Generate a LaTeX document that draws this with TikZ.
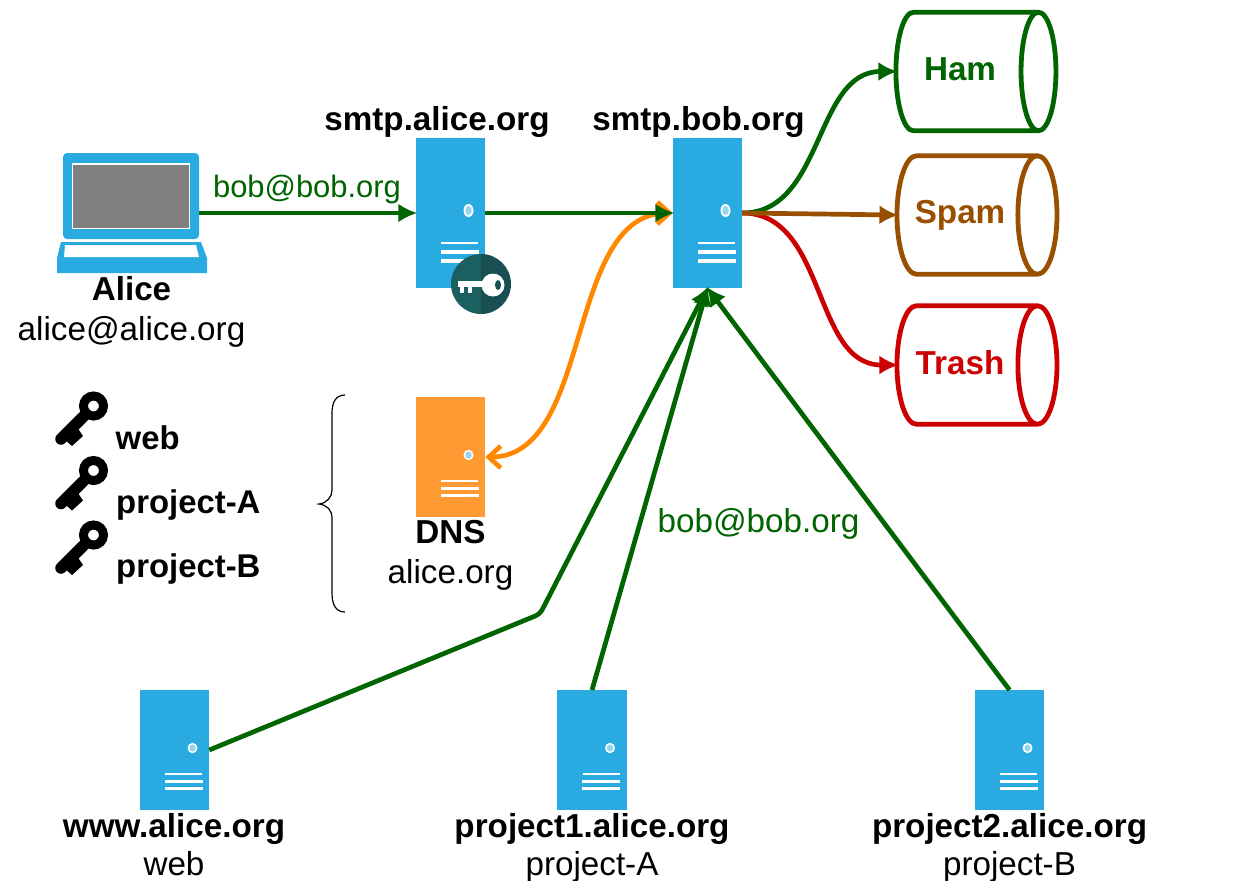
\documentclass[tikz,border=0pt]{standalone}
\usepackage{fontspec}
\setmainfont{Liberation Sans}
\usepackage{xcolor}
\usepackage{tikz}
\usetikzlibrary{arrows.meta}
\usetikzlibrary{shapes.geometric}

\definecolor{srvblue}{HTML}{29ABE2}
\definecolor{srvorange}{HTML}{FF9A33}
\definecolor{linkorange}{HTML}{FF8800}
\definecolor{okgreen}{HTML}{006400}
\definecolor{spambrown}{HTML}{994F00}
\definecolor{trashred}{HTML}{CC0000}
\definecolor{badgeleft}{HTML}{1B5F60}
\definecolor{badgeright}{HTML}{174F53}

\tikzset{
  server/.style={fill=srvblue, inner sep=0pt, outer sep=0pt, minimum width=.695cm, minimum height=1.20cm},
  bigserver/.style={server, minimum height=1.50cm},
  title/.style={anchor=base, inner sep=0pt, font=\fontsize{9.45}{11}\selectfont\bfseries},
  sub/.style={anchor=base, inner sep=0pt, font=\fontsize{9.45}{11}\selectfont},
  mail/.style={anchor=base, inner sep=0pt, text=okgreen, font=\fontsize{8.8}{11}\selectfont},
  keyname/.style={title, anchor=base west, font=\fontsize{9.35}{11}\selectfont\bfseries},
  mailbox/.style={cylinder, draw=#1, text=#1, line width=.048cm, aspect=1.3, inner ysep=0pt, inner xsep=-.04cm, outer sep=0pt,
    minimum width=1.185cm, minimum height=1.60cm, font=\fontsize{9.45}{11}\selectfont\bfseries},
  flow/.style={line width=.047cm, draw=#1, shorten >=-.015cm, -{Latex[length=.19cm,width=.19cm]}},
  lookup/.style={line width=.047cm, draw=linkorange, {Straight Barb[length=.12cm,width=.22cm]}-{Straight Barb[length=.12cm,width=.22cm]}},
}

\newcommand{\serverbits}[2]{
  \begin{scope}[shift={(#1.center)},yscale=#2]
    \fill [white] (.18,.025) ellipse (.05 and .065);
    \fill [white!50!srvblue] (.18,.025) ellipse (.032 and .045);
    \fill [white] (-.095,-.29) rectangle (.275,-.31);
    \fill [white] (-.10,-.37) rectangle (.28,-.41);
    \fill [white] (-.10,-.46) rectangle (.28,-.50);
  \end{scope}
}

\begin{document}
\begin{tikzpicture}
  \useasboundingbox (0,0) rectangle (12.54,-8.80);

  % laptop
  \node [fill=srvblue, rounded corners=.04cm, minimum width=1.36cm, minimum height=.86cm, inner sep=0pt, outer sep=0pt] (alice) at (1.31,-1.96) {};
  \node [fill=gray, draw=white, line width=.015cm, minimum width=1.17cm, minimum height=.645cm, inner sep=0pt] (screen) at (alice.center) {};
  \fill [srvblue] (.61,-2.42) -- (2.01,-2.42) -- (2.07,-2.58) -- (2.07,-2.73) -- (.57,-2.73) -- (.57,-2.58) -- cycle;
  \fill [white] (.65,-2.45) -- (1.96,-2.45) -- (1.99,-2.57) -- (.64,-2.57) -- cycle;
  \node [title] (alicename) at (1.315,-3.00) {Alice};
  \node [sub] (alicemail) at (1.315,-3.40) {alice@alice.org};

  % servers
  \node [bigserver] (smtpalice) at (4.505,-2.13) {};
  \node [bigserver] (smtpbob) at (7.075,-2.13) {};
  \node [server, fill=srvorange] (dns) at (4.505,-4.57) {};
  \node [server] (www) at (1.745,-7.50) {};
  \node [server] (projone) at (5.92,-7.50) {};
  \node [server] (projtwo) at (10.095,-7.50) {};
  \serverbits{smtpalice}{1}
  \serverbits{smtpbob}{1}
  \serverbits{dns}{.8}
  \serverbits{www}{.8}
  \serverbits{projone}{.8}
  \serverbits{projtwo}{.8}

  % key badge
  \fill [badgeleft] (4.81,-2.54) arc (90:270:.30);
  \fill [badgeright] (4.81,-2.54) arc (90:-90:.30);
  \fill [white] (4.93,-2.85) ellipse (.115 and .115);
  \fill [badgeright] (4.98,-2.85) ellipse (.03 and .05);
  \fill [white] (4.58,-2.81) rectangle (4.90,-2.87);
  \fill [white] (4.60,-2.87) rectangle (4.64,-2.93);
  \fill [white] (4.68,-2.87) rectangle (4.72,-2.93);

  % mailboxes
  \node [mailbox=okgreen] (ham) at (9.66,-.715) {\raisebox{.04cm}{Ham}\kern.12cm};
  \node [mailbox=spambrown] (spam) at (9.66,-2.15) {Spam\kern.12cm};
  \node [mailbox=trashred] (trash) at (9.66,-3.65) {\raisebox{.06cm}{Trash}\kern.12cm};

  % connections
  \draw [lookup] (dns.east) to[out=0,in=180,looseness=.9] (smtpbob.west);
  \draw [flow=okgreen] ([yshift=-.17cm]alice.east) -- (smtpalice.west);
  \draw [flow=okgreen] (smtpalice.east) -- (smtpbob.west);
  \draw [flow=okgreen] (smtpbob.east) to[out=0,in=180] (ham.west);
  \draw [flow=trashred] (smtpbob.east) to[out=0,in=180] (trash.west);
  \draw [flow=spambrown] (smtpbob.east) -- (spam.west);
  \coordinate (bend) at (5.40,-6.14);
  \draw [flow=okgreen, rounded corners=.05cm] (www.east) -- (bend) -- (smtpbob.south);
  \draw [flow=okgreen] (projone.north) -- (smtpbob.south);
  \draw [flow=okgreen] (projtwo.north) -- (smtpbob.south);

  % keys
  \foreach \row/\keyid in {0/web,1/project-A,2/project-B} {
    \begin{scope}[yshift=-.645*\row cm]
      \draw [line width=.09cm] (.935,-4.06) circle (.10);
      \draw [line width=.115cm, line cap=round] (.83,-4.17) -- (.61,-4.39);
      \fill (.75,-4.24) -- (.83,-4.36) -- (.72,-4.46) -- (.63,-4.38) -- cycle;
    \end{scope}
  }
  \node [keyname] (webname) at (1.15,-4.49) {web};
  \node [keyname] (projaname) at (1.155,-5.13) {project-A};
  \node [keyname] (projbname) at (1.155,-5.77) {project-B};

  % brace
  \draw [line width=.012cm] (3.45,-3.95) .. controls (3.36,-3.95) and (3.32,-4.02) .. (3.32,-4.13)
    -- (3.32,-4.90) .. controls (3.32,-4.97) and (3.27,-5.03) .. (3.19,-5.04)
    .. controls (3.27,-5.05) and (3.32,-5.10) .. (3.32,-5.18)
    -- (3.32,-5.93) .. controls (3.32,-6.05) and (3.36,-6.12) .. (3.45,-6.12);

  % labels
  \node [mail] (maillabelone) at (3.07,-1.97) {bob@bob.org};
  \node [mail, font=\fontsize{9.45}{11}\selectfont] (maillabeltwo) at (7.585,-5.32) {bob@bob.org};
  \node [title] (smtpalicename) at (4.37,-1.30) {smtp.alice.org};
  \node [title] (smtpbobname) at (6.985,-1.30) {smtp.bob.org};
  \node [title] (dnsname) at (4.505,-5.43) {DNS};
  \node [sub] (dnszone) at (4.505,-5.83) {alice.org};
  \node [title] (wwwname) at (1.74,-8.37) {www.alice.org};
  \node [sub] (wwwkey) at (1.74,-8.75) {web};
  \node [title] (projonename) at (5.92,-8.37) {project1.alice.org};
  \node [sub] (projonekey) at (5.92,-8.75) {project-A};
  \node [title] (projtwoname) at (10.095,-8.37) {project2.alice.org};
  \node [sub] (projtwokey) at (10.095,-8.75) {project-B};
\end{tikzpicture}
\end{document}
